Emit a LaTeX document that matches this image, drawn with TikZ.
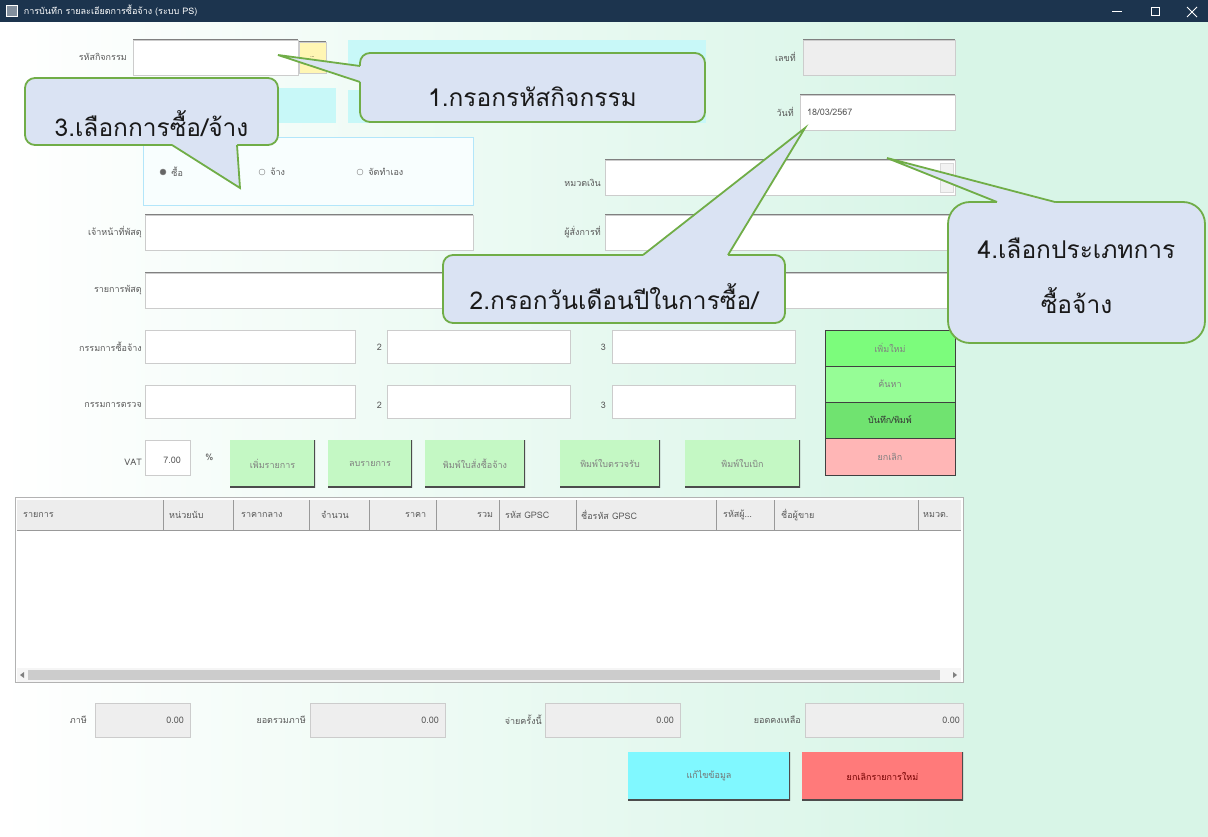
\documentclass[tikz,border=0pt]{standalone}
\usepackage{fontspec}
\setmainfont[Script=Thai]{Loma}
\usetikzlibrary{positioning,fit,calc}
\definecolor{titlenavy}{RGB}{28,52,78}
\definecolor{mintbg}{RGB}{216,245,231}
\definecolor{cyanfield}{RGB}{200,248,248}
\definecolor{greybox}{RGB}{238,238,238}
\definecolor{tipgreen}{RGB}{112,173,71}
\definecolor{tipblue}{RGB}{218,227,243}
\definecolor{btngreen}{RGB}{196,248,196}
\definecolor{sidegreen}{RGB}{124,252,124}
\definecolor{sidepink}{RGB}{255,182,182}
\definecolor{btncyan}{RGB}{128,248,255}
\definecolor{btnred}{RGB}{255,122,122}
\definecolor{askyellow}{RGB}{255,246,180}
\tikzset{
  lbl/.style={font=\fontsize{9}{11}\selectfont,text=black!65,inner sep=1pt},
  flatbox/.style={draw=black!20,fill=white,inner sep=0pt,fit={#1}},
  fieldbox/.style={
    flatbox={#1},
    path picture={\draw[black!50,line width=1.4pt]
      (path picture bounding box.south west) -- (path picture bounding box.north west)
      -- (path picture bounding box.north east);}
  },
  pushbtn/.style={
    flatbox={#1},draw=none,fill=btngreen,
    path picture={\draw[black!70,line width=2.5pt]
      (path picture bounding box.south west) -- (path picture bounding box.south east)
      -- (path picture bounding box.north east);}
  },
  sidebtn/.style={flatbox={#1},draw=black!75,line width=0.8pt,fill=sidegreen},
  btntext/.style={lbl,text=black!50},
  radio/.style={circle,draw=black!50,minimum size=6pt,inner sep=0pt},
  callout/.style={
    draw=tipgreen,line width=1.8pt,fill=tipblue,rounded corners=10pt,inner sep=0pt
  },
  callouttext/.style={align=center,inner sep=0pt,font=\fontsize{24.5}{55}\selectfont,text=black!90},
  tipline/.style={draw=tipgreen,line width=1.8pt,line join=miter}
}
\begin{document}
\begin{tikzpicture}[x=1pt,y=-1pt]
  \useasboundingbox (0,0) rectangle (1208,837);
  % window
  \shade[left color=white,right color=mintbg] (0,22) rectangle (965,837);
  \fill[mintbg] (965,22) rectangle (1208,837);
  \fill[titlenavy] (0,0) rectangle (1208,22);
  \node[draw=white!70,fill=white!45!titlenavy,minimum size=11pt,inner sep=0pt] (appicon) at (12,11) {};
  \node[lbl,text=white!75,right=5pt of appicon] (title) {การบันทึก รายละเอียดการซื้อจ้าง (ระบบ PS)};
  \coordinate (winmin) at (1117,12);
  \draw[white,line width=1pt] ($(winmin)+(-5,0)$) -- ($(winmin)+(5,0)$);
  \node[draw=white,line width=1pt,minimum size=8pt,inner sep=0pt] (winmax) at (1155,12) {};
  \coordinate (winclose) at (1192,12);
  \draw[white,line width=1pt] ($(winclose)+(-5,-5)$) -- ($(winclose)+(5,5)$)
    ($(winclose)+(-5,5)$) -- ($(winclose)+(5,-5)$);

  % activity code, number, date
  \node[lbl,anchor=east] (lcode) at (128,57) {รหัสกิจกรรม};
  \node[fieldbox={(133,40) (298,75)}] (code) {};
  \node[fieldbox={(299,42) (326,73)},fill=askyellow,font=\tiny] (codebtn) {...};
  \node[flatbox={(348,40) (705,75)},draw=cyanfield,fill=cyanfield] (actname) {};
  \node[flatbox={(348,90) (705,122)},draw=cyanfield,fill=cyanfield] (actinfo) {};
  \node[flatbox={(270,88) (335,122)},draw=cyanfield,fill=cyanfield] (actunit) {};
  \node[lbl,anchor=east] (ldocno) at (797,57) {เลขที่};
  \node[fieldbox={(803,40) (955,75)},fill=greybox] (docno) {};
  \node[lbl,anchor=east] (ldate) at (795,112) {วันที่};
  \node[fieldbox={(800,95) (955,130)}] (date) {};
  \node[lbl,anchor=west] (datetxt) at (806,112) {18/03/2567};

  % buy / hire choice
  \node[flatbox={(143,137) (473,205)},draw=cyan!30,fill=white!88!cyanfield] (choice) {};
  \node[radio,fill=black!60] (rbuy) at (163,172) {};
  \node[lbl,right=4pt of rbuy] (lbuy) {ซื้อ};
  \node[radio] (rhire) at (262,172) {};
  \node[lbl,right=4pt of rhire] (lhire) {จ้าง};
  \node[radio] (rself) at (360,172) {};
  \node[lbl,right=4pt of rself] (lself) {จัดทำเอง};

  % fund, officer, approver, items
  \node[lbl,anchor=east] (lfund) at (602,183) {หมวดเงิน};
  \node[fieldbox={(605,160) (955,195)}] (fund) {};
  \node[flatbox={(940,163) (953,192)},fill=black!5,draw=black!15] (fundarrow) {};
  \node[lbl,anchor=east] (lofficer) at (143,232) {เจ้าหน้าที่พัสดุ};
  \node[fieldbox={(145,215) (473,250)}] (officer) {};
  \node[lbl,anchor=east] (lorder) at (602,232) {ผู้สั่งการที่};
  \node[fieldbox={(605,215) (955,250)}] (order) {};
  \node[lbl,anchor=east] (litems) at (143,290) {รายการพัสดุ};
  \node[fieldbox={(145,273) (955,308)}] (items) {};

  % committees
  \node[lbl,anchor=east] (lbuyer) at (143,347) {กรรมการซื้อจ้าง};
  \node[fieldbox={(145,330) (355,363)}] (buyer1) {};
  \node[lbl,anchor=east] (lbuyer2) at (383,347) {2};
  \node[fieldbox={(387,330) (570,363)}] (buyer2) {};
  \node[lbl,anchor=east] (lbuyer3) at (607,347) {3};
  \node[fieldbox={(612,330) (795,363)}] (buyer3) {};
  \node[lbl,anchor=east] (lcheck) at (143,405) {กรรมการตรวจ};
  \node[fieldbox={(145,385) (355,418)}] (check1) {};
  \node[lbl,anchor=east] (lcheck2) at (383,405) {2};
  \node[fieldbox={(387,385) (570,418)}] (check2) {};
  \node[lbl,anchor=east] (lcheck3) at (607,405) {3};
  \node[fieldbox={(612,385) (795,418)}] (check3) {};

  % side buttons
  \node[sidebtn={(825,330) (955,366)}] (bnew) {};
  \node[sidebtn={(825,366) (955,402)},fill=sidegreen!80!white] (bfind) {};
  \node[sidebtn={(825,402) (955,438)},fill=sidegreen!90!black] (bsave) {};
  \node[sidebtn={(825,438) (955,475)},fill=sidepink] (bcancel) {};
  \node[btntext] (tnew) at (bnew) {เพิ่มใหม่};
  \node[btntext] (tfind) at (bfind) {ค้นหา};
  \node[btntext,text=black!80] (tsave) at (bsave) {บันทึก/พิมพ์};
  \node[btntext] (tcancel) at (bcancel) {ยกเลิก};

  % vat and action buttons
  \node[lbl,anchor=east] (lvat) at (143,462) {VAT};
  \node[fieldbox={(145,440) (190,475)}] (vat) {};
  \node[lbl,anchor=east] (vattxt) at (182,460) {7.00};
  \node[lbl,right=14pt of vat] (pct) {\%};
  \node[pushbtn={(230,440) (315,487)}] (badd) {};
  \node[pushbtn={(328,440) (412,487)}] (bdel) {};
  \node[pushbtn={(425,440) (525,487)}] (bpo) {};
  \node[pushbtn={(560,440) (660,487)}] (binsp) {};
  \node[pushbtn={(685,440) (800,487)}] (bwd) {};
  \node[btntext] (tadd) at (badd) {เพิ่มรายการ};
  \node[btntext] (tdel) at (bdel) {ลบรายการ};
  \node[btntext] (tpo) at (bpo) {พิมพ์ใบสั่งซื้อจ้าง};
  \node[btntext] (tinsp) at (binsp) {พิมพ์ใบตรวจรับ};
  \node[btntext] (twd) at (bwd) {พิมพ์ใบเบิก};

  % item table
  \node[flatbox={(15,497) (963,682)},draw=black!30] (grid) {};
  \node[flatbox={(17,500) (961,530)},draw=none,fill=black!7] (gridhead) {};
  \draw[black!40,line width=1pt] (gridhead.south west) -- (gridhead.south east);
  \foreach \x in {163,233,309,369,436,499,576,716,774,918}
    \draw[black!40] (\x,500) -- (\x,530);
  \foreach \x/\t [count=\i] in {22/รายการ,168/หน่วยนับ,240/ราคากลาง,320/จำนวน,404/ราคา,
      476/รวม,504/รหัส GPSC,580/ชื่อรหัส GPSC,722/รหัสผู้\ldots,780/ชื่อผู้ขาย,922/หมวด.}
    \node[lbl,anchor=west] (head\i) at (\x,515) {\t};
  \node[flatbox={(17,668) (961,682)},draw=none,fill=black!4] (scroll) {};
  \node[flatbox={(28,670) (940,680)},draw=none,fill=black!20] (thumb) {};
  \fill[black!50] (20,675) -- (24,672) -- (24,678) -- cycle;
  \fill[black!50] (957,675) -- (953,672) -- (953,678) -- cycle;

  % totals
  \node[lbl,anchor=east] (ltax) at (88,720) {ภาษี};
  \node[fieldbox={(95,703) (190,737)},fill=greybox] (tax) {};
  \node[lbl,anchor=east] (taxtxt) at (185,720) {0.00};
  \node[lbl,anchor=east] (lsum) at (307,720) {ยอดรวมภาษี};
  \node[fieldbox={(310,703) (445,737)},fill=greybox] (sum) {};
  \node[lbl,anchor=east] (sumtxt) at (440,720) {0.00};
  \node[lbl,anchor=east] (lpaid) at (543,720) {จ่ายครั้งนี้};
  \node[fieldbox={(545,703) (680,737)},fill=greybox] (paid) {};
  \node[lbl,anchor=east] (paidtxt) at (675,720) {0.00};
  \node[lbl,anchor=east] (lleft) at (802,720) {ยอดคงเหลือ};
  \node[fieldbox={(805,703) (963,737)},fill=greybox] (left) {};
  \node[lbl,anchor=east] (lefttxt) at (961,720) {0.00};
  \node[pushbtn={(628,752) (790,800)},fill=btncyan] (bedit) {};
  \node[pushbtn={(802,752) (963,800)},fill=btnred] (bclear) {};
  \node[btntext,text=black!55] (tedit) at (bedit) {แก้ไขข้อมูล};
  \node[btntext,text=red!45!black] (tclear) at (bclear) {ยกเลิกรายการใหม่};

  % callouts
  \node[callout,fit={(360,53) (705,122)}] (tip1) {};
  \node[callouttext] (tip1txt) at ([yshift=-9pt]tip1.center) {1.กรอกรหัสกิจกรรม};
  \coordinate (tip1a) at (360,66);
  \coordinate (tip1b) at (360,82);
  \coordinate (tip1end) at (278,55);
  \fill[tipblue] (tip1a) -- (tip1end) -- (tip1b) -- ($(tip1b)+(3,0)$) -- ($(tip1a)+(3,0)$) -- cycle;
  \draw[tipline] (tip1a) -- (tip1end) -- (tip1b);

  \node[callout,fit={(443,255) (785,323)}] (tip2) {};
  \node[callouttext] (tip2txt) at ([yshift=-8pt]tip2.center) {2.กรอกวันเดือนปีในการซื้อ/};
  \coordinate (tip2a) at (643,255);
  \coordinate (tip2b) at (728,255);
  \coordinate (tip2end) at (805,128);
  \fill[tipblue] (tip2a) -- (tip2end) -- (tip2b) -- ($(tip2b)+(0,3)$) -- ($(tip2a)+(0,3)$) -- cycle;
  \draw[tipline] (tip2a) -- (tip2end) -- (tip2b);

  \node[callout,fit={(25,78) (278,145)}] (tip3) {};
  \node[callouttext] (tip3txt) at ([yshift=-12pt]tip3.center) {3.เลือกการซื้อ/จ้าง};
  \coordinate (tip3a) at (172,145);
  \coordinate (tip3b) at (237,145);
  \coordinate (tip3end) at (240,188);
  \fill[tipblue] (tip3a) -- (tip3end) -- (tip3b) -- ($(tip3b)+(0,-3)$) -- ($(tip3a)+(0,-3)$) -- cycle;
  \draw[tipline] (tip3a) -- (tip3end) -- (tip3b);

  \node[callout,rounded corners=22pt,fit={(948,202) (1205,343)}] (tip4) {};
  \node[callouttext] (tip4txt) at ([yshift=-3pt]tip4.center) {4.เลือกประเภทการ\\ซื้อจ้าง};
  \coordinate (tip4a) at (997,202);
  \coordinate (tip4b) at (1055,202);
  \coordinate (tip4end) at (887,158);
  \fill[tipblue] (tip4a) -- (tip4end) -- (tip4b) -- ($(tip4b)+(0,3)$) -- ($(tip4a)+(0,3)$) -- cycle;
  \draw[tipline] (tip4a) -- (tip4end) -- (tip4b);
\end{tikzpicture}
\end{document}
